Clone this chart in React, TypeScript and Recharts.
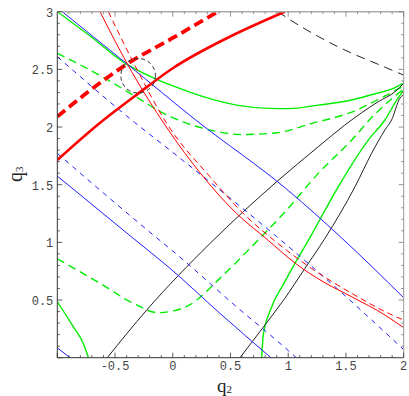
import React from 'react';
import { LineChart, Line, XAxis, YAxis, ReferenceDot } from 'recharts';

// ---------- axes ----------
const X_DOMAIN: [number, number] = [-1, 2];
const Y_DOMAIN: [number, number] = [0, 3];
const xTicks = [-1, -0.9, -0.8, -0.7, -0.6, -0.5, -0.4, -0.3, -0.2, -0.1, 0, 0.1, 0.2, 0.3, 0.4, 0.5, 0.6, 0.7, 0.8, 0.9, 1, 1.1, 1.2, 1.3, 1.4, 1.5, 1.6, 1.7, 1.8, 1.9, 2];
const yTicks = [0, 0.1, 0.2, 0.3, 0.4, 0.5, 0.6, 0.7, 0.8, 0.9, 1, 1.1, 1.2, 1.3, 1.4, 1.5, 1.6, 1.7, 1.8, 1.9, 2, 2.1, 2.2, 2.3, 2.4, 2.5, 2.6, 2.7, 2.8, 2.9, 3];
const xLabelValues = [-0.5, 0, 0.5, 1, 1.5, 2];
const xLabelTexts = ['-0.5', '0', '0.5', '1', '1.5', '2'];
const yLabelValues = [0.5, 1, 1.5, 2, 2.5, 3];
const yLabelTexts = ['0.5', '1', '1.5', '2', '2.5', '3'];

// ---------- curves (x, y) ----------
const redThickDashed = [[-1, 2.09], [-0.7, 2.33], [-0.4, 2.544], [0.02, 2.783], [0.35, 2.977], [0.39, 3.0]];
const redThick = [[-1, 1.714], [-0.65, 2.02], [-0.3, 2.29], [0, 2.51], [0.467, 2.77], [0.97, 3.0]];
const redThin = [[-0.63, 3.0], [-0.356, 2.48], [-0.067, 2.017], [0.264, 1.569], [0.553, 1.25], [0.8, 1.04], [1.073, 0.81], [1.3, 0.66], [1.55, 0.528], [1.837, 0.37], [2, 0.26]];
const redThinDashed = [[-0.558, 3.0], [-0.3, 2.48], [-0.053, 2.032], [0.322, 1.569], [0.64, 1.222], [0.85, 1.04], [1.2, 0.775], [1.55, 0.558], [1.837, 0.4], [2, 0.326]];
const blackDashed = [[0.91, 3.0], [1.0, 2.94], [1.26, 2.785], [1.55, 2.64], [1.8, 2.535], [2.0, 2.45]];
const greenUpper = [[-1, 3.0], [-0.73, 2.8], [-0.4, 2.545], [-0.154, 2.42], [0.019, 2.35], [0.264, 2.263], [0.553, 2.19], [0.84, 2.162], [1.0, 2.16], [1.26, 2.19], [1.55, 2.234], [1.72, 2.28], [1.92, 2.34], [2.0, 2.38]];
const greenDashedUpper = [[-1, 2.64], [-0.6, 2.43], [-0.3, 2.25], [-0.1, 2.13], [0.1, 2.04], [0.3, 1.98], [0.6, 1.935], [0.9, 1.95], [1.2, 2.03], [1.55, 2.13], [1.84, 2.27], [2.0, 2.355]];
const blueUpper = [[-0.957, 3.0], [-0.4, 2.55], [0.2, 2.06], [1.0, 1.45], [1.45, 1.05], [2.0, 0.52]];
const blueDashedUpper = [[-1, 2.61], [-0.33, 2.04], [0, 1.78], [0.9, 1.05], [1.32, 0.69], [2.0, 0.07]];
const blueDashedLower = [[-1, 1.772], [-0.14, 1.04], [0, 0.925], [0.553, 0.441], [0.928, 0.125], [1.07, 0]];
const blueLower = [[-1, 1.575], [-0.342, 1.035], [-0.024, 0.775], [0.409, 0.384], [0.85, 0]];
const blueLowest = [[-1, 0.086], [-0.89, 0]];
const greenBottomLeft = [[-1, 0.485], [-0.861, 0.268], [-0.775, 0.124], [-0.73, 0]];
const greenDashedLower = [[-1, 0.858], [-0.63, 0.645], [-0.344, 0.473], [-0.125, 0.39], [-0.024, 0.4], [0.15, 0.46], [0.41, 0.69], [0.697, 0.977], [0.986, 1.28], [1.26, 1.598], [1.55, 1.887], [1.72, 2.08], [2, 2.33]];
const greenRight = [[0.77, 0], [0.784, 0.196], [0.84, 0.398], [0.97, 0.658], [1.2, 1.063], [1.433, 1.482], [1.693, 1.887], [1.837, 2.061], [1.95, 2.25], [2, 2.32]];
const blackLeft = [[-0.567, 0], [-0.226, 0.413], [0.322, 0.99], [0.9, 1.526], [1.26, 1.829], [1.49, 2.017], [1.78, 2.22], [1.924, 2.306], [2, 2.38]];
const blackRight = [[0.582, 0], [0.798, 0.283], [0.97, 0.514], [1.145, 0.775], [1.318, 1.035], [1.578, 1.482], [1.722, 1.772], [1.837, 1.974], [1.895, 2.061], [1.967, 2.25], [2, 2.28]];
const circleCenter = [-0.3, 2.445];

const toPts = (arr: number[][]) => arr.map(([x, y]) => ({ x, y }));

const RED = '#ff0000';
const GREEN = '#00ee00';
const BLUE = '#2020ff';
const BLACK = '#222222';

const series = [
  { key: 'greenBottomLeft', data: greenBottomLeft, color: GREEN, width: 1.4, dash: undefined },
  { key: 'greenDashedLower', data: greenDashedLower, color: GREEN, width: 1.4, dash: '8 5' },
  { key: 'greenRight', data: greenRight, color: GREEN, width: 1.4, dash: undefined },
  { key: 'greenUpper', data: greenUpper, color: GREEN, width: 1.4, dash: undefined },
  { key: 'greenDashedUpper', data: greenDashedUpper, color: GREEN, width: 1.4, dash: '8 5' },
  { key: 'blackLeft', data: blackLeft, color: BLACK, width: 1, dash: undefined },
  { key: 'blackRight', data: blackRight, color: BLACK, width: 1, dash: undefined },
  { key: 'blackDashed', data: blackDashed, color: BLACK, width: 1, dash: '9 6' },
  { key: 'blueUpper', data: blueUpper, color: BLUE, width: 1, dash: undefined },
  { key: 'blueDashedUpper', data: blueDashedUpper, color: BLUE, width: 1, dash: '5 5' },
  { key: 'blueDashedLower', data: blueDashedLower, color: BLUE, width: 1, dash: '5 5' },
  { key: 'blueLower', data: blueLower, color: BLUE, width: 1, dash: undefined },
  { key: 'blueLowest', data: blueLowest, color: BLUE, width: 1, dash: undefined },
  { key: 'redThin', data: redThin, color: RED, width: 1, dash: undefined },
  { key: 'redThinDashed', data: redThinDashed, color: RED, width: 1, dash: '6 4' },
  { key: 'redThick', data: redThick, color: RED, width: 2.6, dash: undefined },
  { key: 'redThickDashed', data: redThickDashed, color: RED, width: 3.8, dash: '10 5' },
];

// ---------- layout ----------
const W = 409;
const H = 396;
const PLOT_LEFT = 57.3;
const PLOT_RIGHT = 403.7;
const PLOT_TOP = 11.7;
const PLOT_BOTTOM = 357.7;
const TOP_AXIS_H = 4;
const RIGHT_AXIS_W = 4;
const BOTTOM_AXIS_H = 30;
const LEFT_AXIS_W = 50;
const MAJOR = 5;
const MINOR = 2.5;
const TICK_COLOR = '#333';
const LABEL_FONT = "'Liberation Mono', 'DejaVu Sans Mono', monospace";
const TITLE_FONT = "'Liberation Serif', serif";

const isMajor = (v: number) => Math.abs(v * 2 - Math.round(v * 2)) < 1e-6;
const findIdx = (vals: number[], v: number) => vals.findIndex((l) => Math.abs(l - v) < 1e-6);

const BottomTick = (props: any) => {
  const { x, y, payload } = props;
  const v = payload.value as number;
  const len = isMajor(v) ? MAJOR : MINOR;
  const idx = findIdx(xLabelValues, v);
  return (
    <g>
      <line x1={x} y1={y} x2={x} y2={y - len} stroke={TICK_COLOR} strokeWidth={0.8} />
      {idx >= 0 && (
        <text x={x} y={y + 12.3} textAnchor="middle" fontFamily={LABEL_FONT} fontSize={12} fill="#444">
          {xLabelTexts[idx]}
        </text>
      )}
    </g>
  );
};

const TopTick = (props: any) => {
  const { x, y, payload } = props;
  const v = payload.value as number;
  const len = isMajor(v) ? MAJOR : MINOR;
  return <line x1={x} y1={y} x2={x} y2={y + len} stroke="#777" strokeWidth={0.8} />;
};

const LeftTick = (props: any) => {
  const { x, y, payload } = props;
  const v = payload.value as number;
  const len = isMajor(v) ? MAJOR : MINOR;
  const idx = findIdx(yLabelValues, v);
  return (
    <g>
      <line x1={x} y1={y} x2={x + len} y2={y} stroke={TICK_COLOR} strokeWidth={0.8} />
      {idx >= 0 && (
        <text x={x - 4} y={y + 5} textAnchor="end" fontFamily={LABEL_FONT} fontSize={12} fill="#444">
          {yLabelTexts[idx]}
        </text>
      )}
    </g>
  );
};

const RightTick = (props: any) => {
  const { x, y, payload } = props;
  const v = payload.value as number;
  const len = isMajor(v) ? MAJOR : MINOR;
  return <line x1={x} y1={y} x2={x - len} y2={y} stroke="#777" strokeWidth={0.8} />;
};

export default function App() {
  return (
    <div style={{ position: 'absolute', left: 0, top: 0, width: W, height: H, background: '#fff' }}>
      <LineChart
        width={W}
        height={H}
        margin={{
          top: PLOT_TOP - TOP_AXIS_H,
          right: W - PLOT_RIGHT - RIGHT_AXIS_W,
          bottom: H - PLOT_BOTTOM - BOTTOM_AXIS_H,
          left: PLOT_LEFT - LEFT_AXIS_W,
        }}
      >
        <XAxis
          xAxisId="bottom"
          type="number"
          dataKey="x"
          domain={X_DOMAIN}
          allowDataOverflow
          ticks={xTicks}
          interval={0}
          height={BOTTOM_AXIS_H}
          tickSize={0}
          tickMargin={0}
          tickLine={false}
          axisLine={{ stroke: '#333', strokeWidth: 1 }}
          tick={BottomTick}
        />
        <XAxis
          xAxisId="top"
          orientation="top"
          type="number"
          dataKey="x"
          domain={X_DOMAIN}
          allowDataOverflow
          ticks={xTicks}
          interval={0}
          height={TOP_AXIS_H}
          tickSize={0}
          tickMargin={0}
          tickLine={false}
          axisLine={{ stroke: '#aaa', strokeWidth: 1.5 }}
          tick={TopTick}
        />
        <YAxis
          yAxisId="left"
          type="number"
          dataKey="y"
          domain={Y_DOMAIN}
          allowDataOverflow
          ticks={yTicks}
          interval={0}
          width={LEFT_AXIS_W}
          tickSize={0}
          tickMargin={0}
          tickLine={false}
          axisLine={{ stroke: '#333', strokeWidth: 1 }}
          tick={LeftTick}
        />
        <YAxis
          yAxisId="right"
          orientation="right"
          type="number"
          dataKey="y"
          domain={Y_DOMAIN}
          allowDataOverflow
          ticks={yTicks}
          interval={0}
          width={RIGHT_AXIS_W}
          tickSize={0}
          tickMargin={0}
          tickLine={false}
          axisLine={{ stroke: '#999', strokeWidth: 1 }}
          tick={RightTick}
        />
        {series.map((s) => (
          <Line
            key={s.key}
            name={s.key}
            xAxisId="bottom"
            yAxisId="left"
            data={toPts(s.data)}
            dataKey="y"
            type="monotone"
            stroke={s.color}
            strokeWidth={s.width}
            strokeDasharray={s.dash}
            dot={false}
            activeDot={false}
            isAnimationActive={false}
          />
        ))}
        <ReferenceDot
          xAxisId="bottom"
          yAxisId="left"
          x={circleCenter[0]}
          y={circleCenter[1]}
          r={17.3}
          fill="none"
          stroke="#333"
          strokeWidth={1}
          strokeDasharray="4 3"
        />
      </LineChart>
      <svg width={W} height={H} style={{ position: 'absolute', left: 0, top: 0, pointerEvents: 'none' }}>
        <text x={217} y={391.5} fontFamily={TITLE_FONT} fontSize={19} fill="#222">
          q<tspan fontSize={11} dy={1}>2</tspan>
        </text>
        <text transform="translate(22,182) rotate(-90)" fontFamily={TITLE_FONT} fontSize={20} fill="#222">
          q<tspan fontSize={11} dy={1}>3</tspan>
        </text>
      </svg>
    </div>
  );
}
